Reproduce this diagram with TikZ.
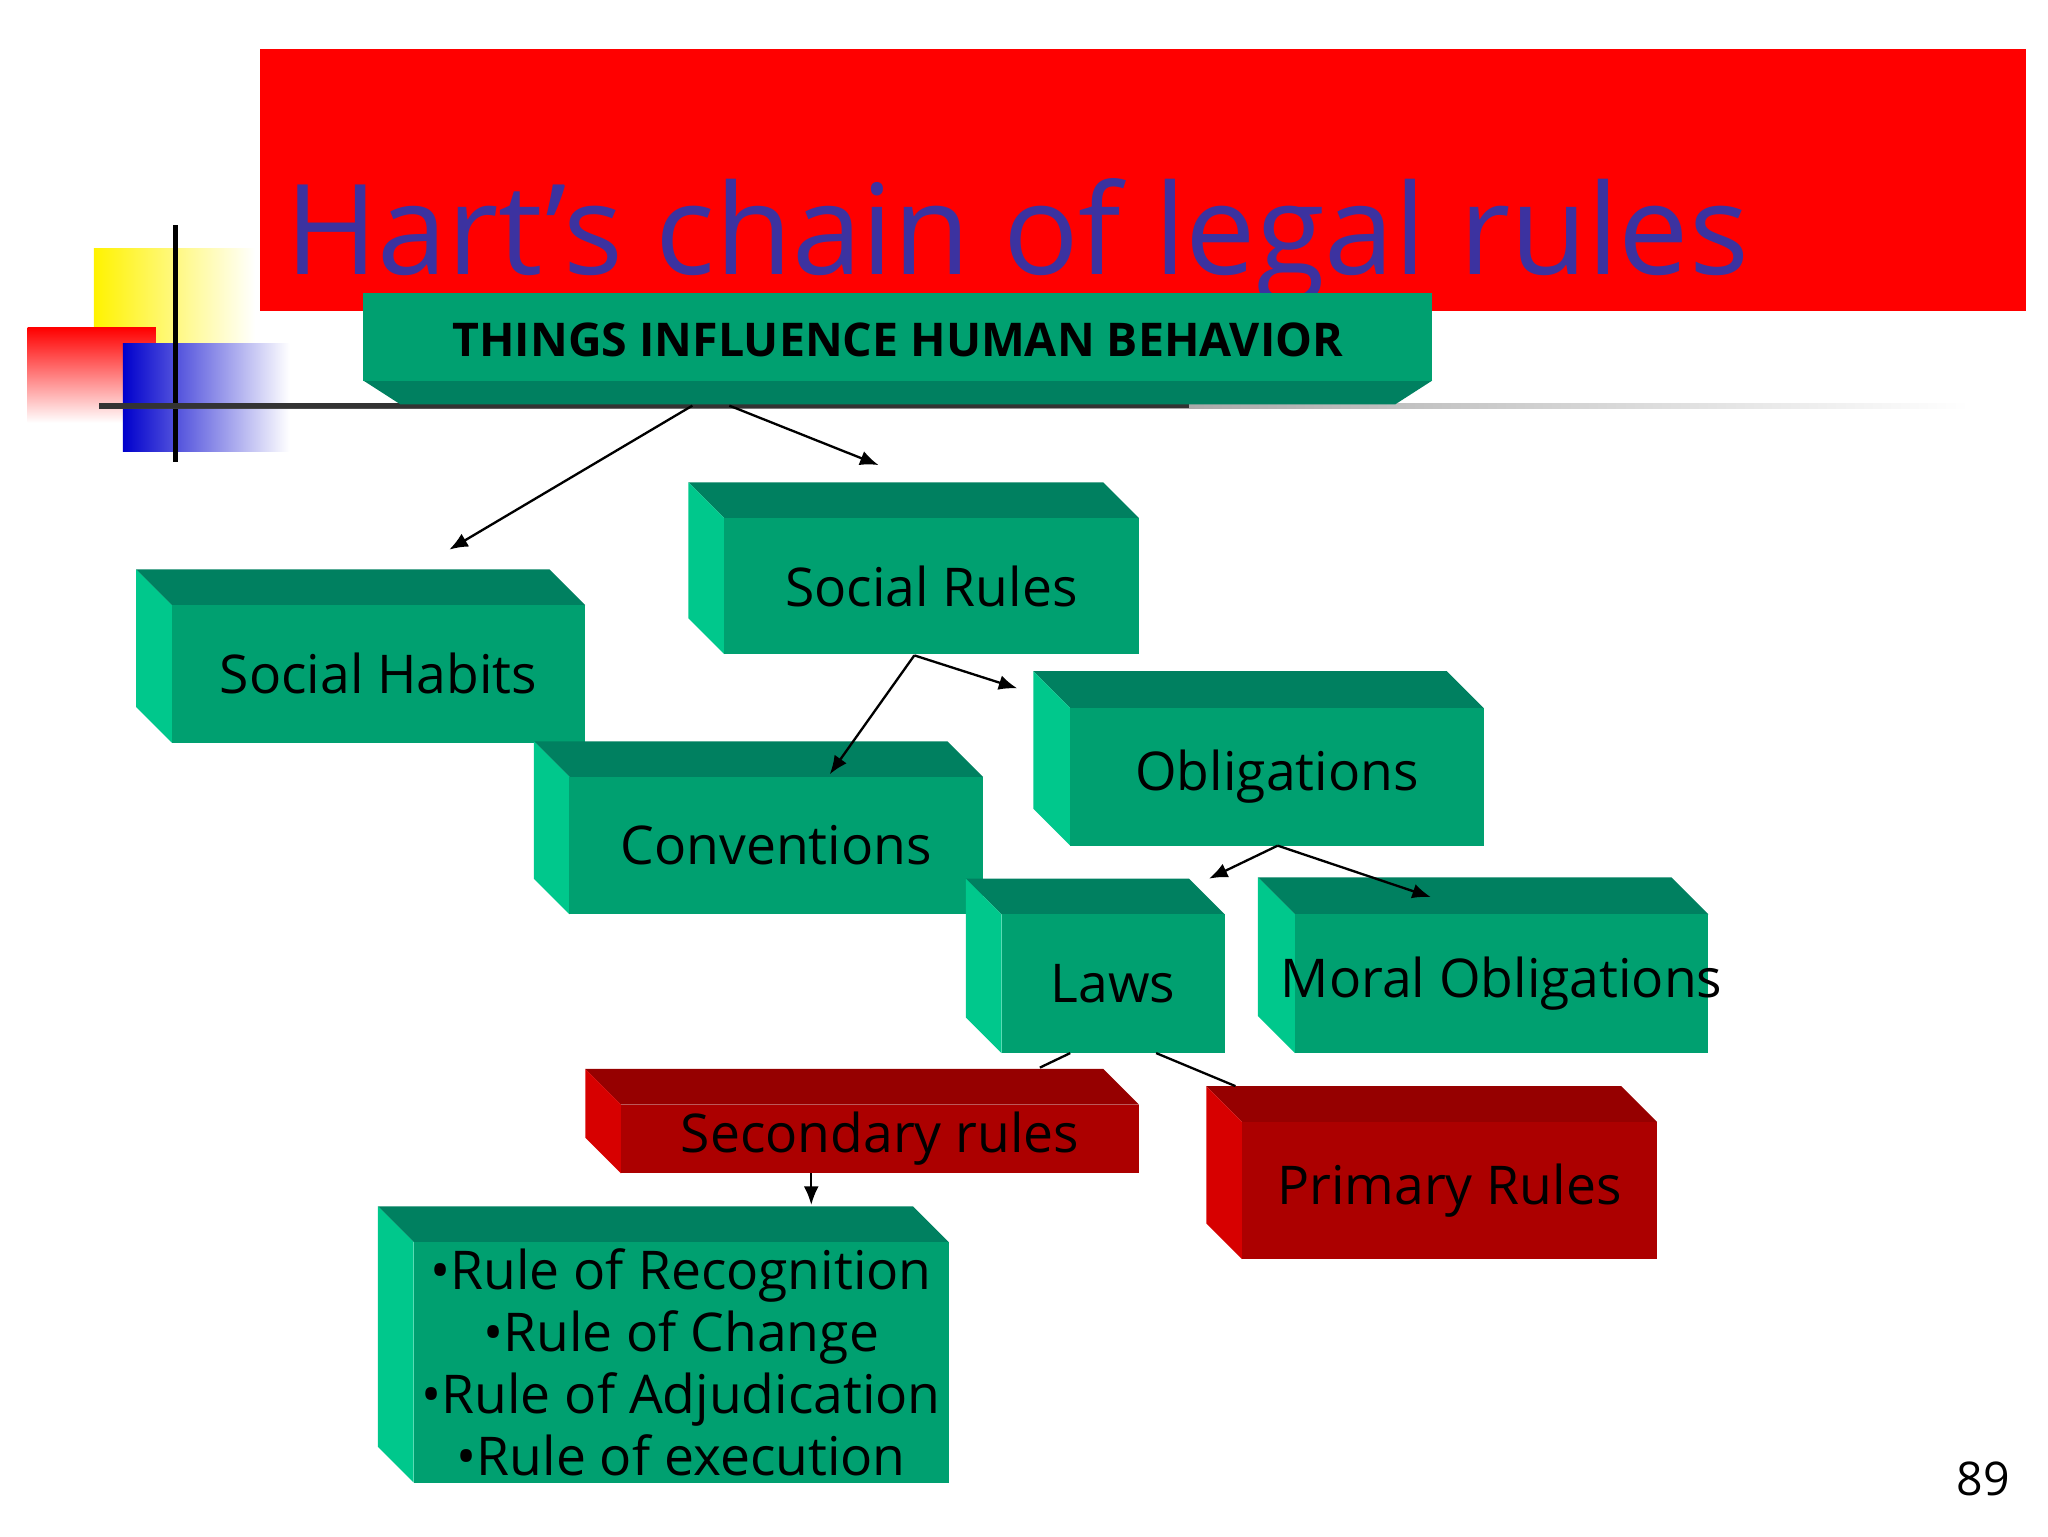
\documentclass[tikz,border=0pt]{standalone}
\usepackage{fontspec}
\setmainfont{Open Sans}
\usetikzlibrary{arrows.meta}
\definecolor{gfront}{RGB}{0,160,112}
\definecolor{gtop}{RGB}{0,128,96}
\definecolor{gleft}{RGB}{0,200,140}
\definecolor{rfront}{RGB}{172,0,0}
\definecolor{rtop}{RGB}{150,0,0}
\definecolor{rleft}{RGB}{215,0,0}
\definecolor{titleblue}{RGB}{60,50,160}
\tikzset{
  boxtext/.style={font=\fontsize{11.5}{13.4}\selectfont, text=black, align=center, inner sep=0pt},
  conn/.style={draw=black, line width=0.5pt},
  arr/.style={conn, -{Latex[length=4pt,width=3.2pt]}}
}
\newcommand\bx[8]{%
  \fill[#7top] (#2-#6,#3-#6) -- (#4-#6,#3-#6) -- (#4,#3) -- (#2,#3) -- cycle;
  \fill[#7left] (#2-#6,#3-#6) -- (#2,#3) -- (#2,#5) -- (#2-#6,#5-#6) -- cycle;
  \fill[#7front] (#2,#3) rectangle (#4,#5);
  \node[boxtext] (#1) at ({(#2+#4)/2},{(#3+#5)/2}) {#8};
}
\begin{document}
\begin{tikzpicture}[x=0.01cm,y=-0.01cm]
\useasboundingbox (0,0) rectangle (1550,1162.5);
% title
\fill[red] (197,37) rectangle (1533,235);
% decoration
\shade[left color=yellow!90!orange, right color=white] (71,188) rectangle (193,300);
\shade[shading angle=225, top color=red, bottom color=white] (21,248) rectangle (118,320);
\shade[left color=blue!80!black, right color=white] (93,260) rectangle (219,342);
\fill[black] (131,170) rectangle (135,350);
\shade[left color=black!80, right color=white] (75,305) rectangle (1490,309);
\fill[black!80] (75,305) rectangle (900,309);
\node[anchor=base west, inner sep=0pt, text=titleblue, font=\fontsize{27}{30}\selectfont] (title) at (215,208) {Hart’s chain of legal rules};
% top box
\fill[gtop] (275,288) -- (1084,288) -- (1056,306) -- (303,306) -- cycle;
\fill[gfront] (275,222) rectangle (1084,288);
\node[font=\bfseries\fontsize{10}{12}\selectfont, inner sep=0pt] (things) at (679.5,257) {THINGS INFLUENCE HUMAN BEHAVIOR};
% boxes
\bx{srules}{548}{392}{862}{495}{27}{g}{Social Rules}
\bx{shabits}{130}{458}{443}{562}{27}{g}{Social Habits}
\bx{conv}{431}{588}{744}{692}{27}{g}{Conventions}
\bx{oblig}{810}{536}{1123}{640}{28}{g}{Obligations}
\bx{laws}{758}{692}{927}{797}{27}{g}{Laws}
\bx{moral}{980}{692}{1293}{797}{28}{g}{Moral Obligations}
\bx{second}{470}{836}{862}{888}{27}{r}{Secondary rules}
\bx{primary}{940}{849}{1254}{953}{27}{r}{Primary Rules}
\bx{list}{313}{940}{718}{1122}{27}{g}{•Rule of Recognition\\•Rule of Change\\•Rule of Adjudication\\•Rule of execution}
% connectors
\coordinate (t1) at (524,307); \coordinate (t2) at (552,307);
\coordinate (h) at (340,416); \coordinate (s) at (665,352);
\coordinate (sr) at (692,496); \coordinate (cv) at (628,586); \coordinate (ob) at (770,521);
\coordinate (obb) at (967,640); \coordinate (lw) at (915,665); \coordinate (mo) at (1083,679);
\coordinate (l1) at (810,797); \coordinate (l2) at (875,797);
\coordinate (se) at (787,808); \coordinate (pr) at (935,822);
\coordinate (sb) at (614,888); \coordinate (li) at (614,912);
\draw[arr] (t1) -- (h);
\draw[arr] (t2) -- (s);
\draw[arr] (sr) -- (cv);
\draw[arr] (sr) -- (ob);
\draw[arr] (obb) -- (lw);
\draw[arr] (obb) -- (mo);
\draw[conn] (l1) -- (se);
\draw[conn] (l2) -- (pr);
\draw[arr] (sb) -- (li);
\node[font=\fontsize{10}{12}\selectfont, inner sep=0pt] (page) at (1501,1119) {89};
\end{tikzpicture}
\end{document}
